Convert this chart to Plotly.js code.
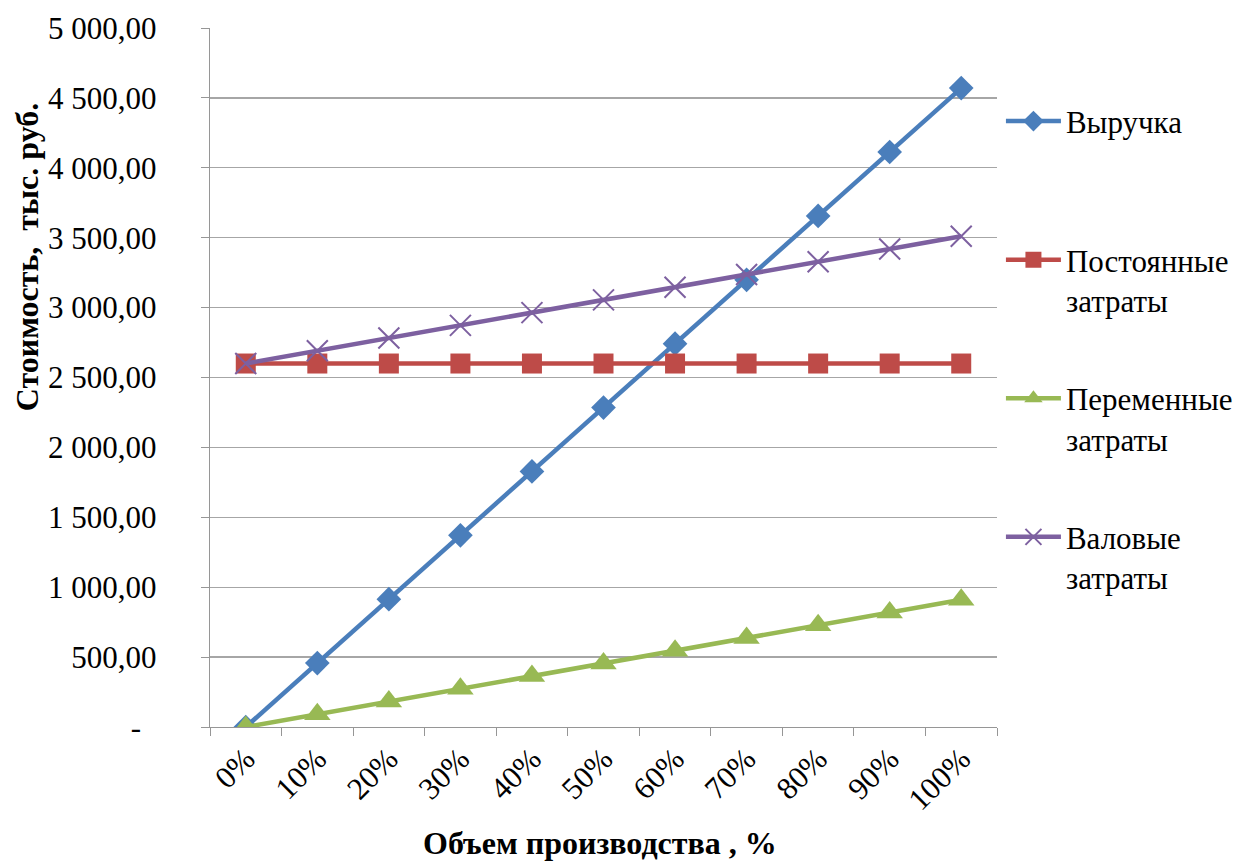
<!DOCTYPE html>
<html>
<head>
<meta charset="utf-8">
<script src="https://cdn.plot.ly/plotly-3.0.1.min.js"></script>
<style>html,body{margin:0;padding:0;background:#fff;}#chart{width:1240px;height:861px;}</style>
</head>
<body>
<div id="chart"></div>
<script>
const categories = ["0%","10%","20%","30%","40%","50%","60%","70%","80%","90%","100%"];
const revenue   = [0, 457, 914, 1371, 1828, 2285, 2742, 3199, 3656, 4113, 4570];
const fixedCost = [2600, 2600, 2600, 2600, 2600, 2600, 2600, 2600, 2600, 2600, 2600];
const varCost   = [0, 91, 182, 273, 364, 455, 546, 637, 728, 819, 910];
const grossCost = [2600, 2691, 2782, 2873, 2964, 3055, 3146, 3237, 3328, 3419, 3510];
const yTickVals = [0, 500, 1000, 1500, 2000, 2500, 3000, 3500, 4000, 4500, 5000];
const yTickText = ["-\u00a0\u00a0", "500,00", "1 000,00", "1 500,00", "2 000,00", "2 500,00", "3 000,00", "3 500,00", "4 000,00", "4 500,00", "5 000,00"];
const seriesNames = ["Выручка<br>\u00a0", "Постоянные<br>затраты", "Переменные<br>затраты", "Валовые<br>затраты"];
const xTitle = "Объем производства , %";
const yTitle = "Стоимость,\u00a0 тыс. руб.";

const FONT = "'Liberation Serif', 'Times New Roman', serif";

const traces = [
  {x: categories, y: revenue, name: seriesNames[0], legendgroup: "a", mode: "lines+markers",
   line: {color: "#4A7EBB", width: 4.5}, marker: {symbol: "diamond", size: 19, color: "#4A7EBB"}},
  {x: categories, y: fixedCost, name: seriesNames[1], legendgroup: "b", mode: "lines+markers",
   line: {color: "#BE4B48", width: 4.5}, marker: {symbol: "square", size: 20, color: "#BE4B48"}},
  {x: categories, y: varCost, name: seriesNames[2], legendgroup: "c", mode: "lines+markers",
   line: {color: "#98B954", width: 4.5}, marker: {symbol: "triangle-up", size: 23, color: "#98B954"}},
  {x: categories, y: grossCost, name: seriesNames[3], legendgroup: "d", mode: "lines+markers",
   line: {color: "#7D60A0", width: 4.5}, marker: {symbol: "x-thin", size: 21, line: {color: "#7D60A0", width: 2}}}
];

const layout = {
  width: 1240, height: 861,
  margin: {l: 210, r: 243, t: 28, b: 134, autoexpand: false},
  paper_bgcolor: "#fff", plot_bgcolor: "#fff",
  font: {family: FONT, color: "#000"},
  showlegend: true,
  legend: {x: 1.005, xanchor: "left", y: 0.905, yanchor: "top",
    font: {family: FONT, size: 31, color: "#000"},
    traceorder: "grouped", tracegroupgap: 55, itemwidth: 55, valign: "top",
    bgcolor: "rgba(0,0,0,0)"},
  xaxis: {
    type: "category", range: [-0.5, 10.5], showgrid: false, showline: true, linecolor: "#969696", linewidth: 1.3,
    ticks: "outside", tickson: "boundaries", ticklen: 8, tickcolor: "#969696",
    tickangle: -45, tickfont: {family: FONT, size: 31, color: "#000"},
    zeroline: false, fixedrange: true
  },
  yaxis: {
    range: [0, 5000], tickvals: yTickVals, ticktext: yTickText,
    showgrid: true, gridcolor: "#A6A6A6", gridwidth: 1.3,
    showline: true, linecolor: "#969696", linewidth: 1.3,
    ticks: "outside", ticklen: 8, tickcolor: "#969696",
    ticklabelstandoff: 38,
    tickfont: {family: FONT, size: 31, color: "#000"},
    zeroline: false, fixedrange: true
  },
  annotations: [
    {text: "<b>" + xTitle + "</b>", xref: "paper", yref: "paper", x: 0.495, y: -0.166,
     xanchor: "center", yanchor: "middle", showarrow: false, font: {family: FONT, size: 32, color: "#000"}},
    {text: "<b>" + yTitle + "</b>", xref: "paper", yref: "paper", x: -0.2325, y: 0.672,
     xanchor: "center", yanchor: "middle", textangle: -90, showarrow: false, font: {family: FONT, size: 32, color: "#000"}}
  ]
};

Plotly.newPlot("chart", traces, layout, {displayModeBar: false, staticPlot: true});
</script>
</body>
</html>
